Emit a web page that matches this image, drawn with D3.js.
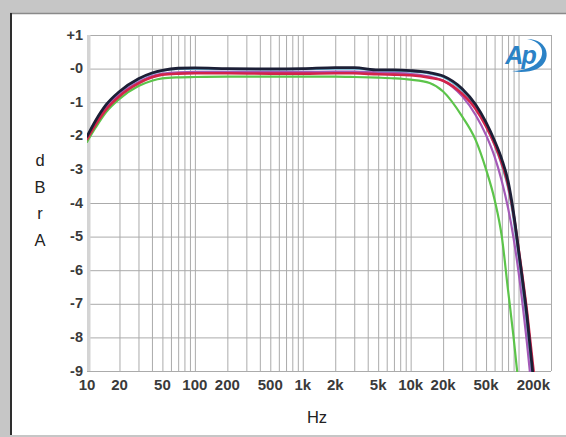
<!DOCTYPE html>
<html>
<head>
<meta charset="utf-8">
<script src="https://cdn.jsdelivr.net/npm/d3@7/dist/d3.min.js"></script>
<style>
  html, body { margin: 0; padding: 0; background: #c6c6c6; }
  svg { display: block; }
</style>
</head>
<body>
<script>
// Frequency response, dBrA vs Hz
const freqs = [10, 12, 15, 20, 30, 40, 50, 70, 100, 200, 500, 1000, 2000, 3000, 5000, 7000,
               10000, 15000, 20000, 30000, 40000, 50000, 60000, 70000, 80000, 90000, 100000, 120000, 140000];

const blackDb  = [-2.02, -1.55, -1.08, -0.68, -0.30, -0.13, -0.05, 0.01, 0.02, 0.00, -0.01, 0.00, 0.03, 0.03, -0.04, -0.04,
                  -0.06, -0.12, -0.22, -0.60, -1.07, -1.60, -2.15, -2.70, -3.35, -4.30, -5.40, -7.40, -9.50];
const cyanDb   = [-2.04, -1.57, -1.10, -0.70, -0.32, -0.15, -0.07, -0.01, -0.01, -0.02, -0.03, -0.02, 0.00, 0.00, -0.06, -0.07,
                  -0.09, -0.15, -0.25, -0.66, -1.14, -1.70, -2.28, -2.88, -3.55, -4.50, -5.60, -7.70, -9.80];
const purpleDb = [-2.07, -1.62, -1.16, -0.77, -0.40, -0.22, -0.15, -0.11, -0.10, -0.10, -0.10, -0.10, -0.09, -0.09, -0.12, -0.13,
                  -0.16, -0.24, -0.36, -0.82, -1.38, -1.98, -2.62, -3.35, -4.15, -5.05, -6.05, -8.20, -10.3];
const redDb    = [-2.10, -1.67, -1.22, -0.82, -0.44, -0.26, -0.18, -0.15, -0.14, -0.14, -0.15, -0.15, -0.14, -0.14, -0.17, -0.18,
                  -0.20, -0.27, -0.36, -0.75, -1.20, -1.72, -2.25, -2.82, -3.47, -4.35, -5.35, -7.25, -9.20];
const greenDb  = [-2.18, -1.76, -1.30, -0.90, -0.52, -0.36, -0.29, -0.26, -0.25, -0.24, -0.24, -0.24, -0.24, -0.25, -0.27, -0.29,
                  -0.33, -0.43, -0.68, -1.42, -2.12, -3.00, -3.90, -5.00, -6.60, -8.00, -9.40, -12.0, -14.0];

const xTickValues = [10, 20, 50, 100, 200, 500, 1000, 2000, 5000, 10000, 20000, 50000, 200000];
const xTickLabels = ["10", "20", "50", "100", "200", "500", "1k", "2k", "5k", "10k", "20k", "50k", "200k"];
const yTickValues = [1, 0, -1, -2, -3, -4, -5, -6, -7, -8, -9];
const yTickLabels = ["+1", "-0", "-1", "-2", "-3", "-4", "-5", "-6", "-7", "-8", "-9"];

const series = [
  { name: "green",  values: greenDb,  color: "#5cc44a", width: 2.2 },
  { name: "cyan",   values: cyanDb,   color: "#6fb9d6", width: 2.2 },
  { name: "purple", values: purpleDb, color: "#a45ab8", width: 2.2 },
  { name: "red",    values: redDb,    color: "#d3244a", width: 2.6 },
  { name: "black",  values: blackDb,  color: "#1c1f36", width: 2.8 }
];

const W = 566, H = 437;
const plotLeft = 87, plotRight = 551, plotTop = 35, plotBottom = 371;

const svg = d3.select("body").append("svg").attr("width", W).attr("height", H);

// Panel
svg.append("rect").attr("x", 0).attr("y", 0).attr("width", W).attr("height", H).attr("fill", "#c6c6c6");
svg.append("rect").attr("x", 10).attr("y", 13).attr("width", W - 10).attr("height", 422).attr("fill", "#ffffff");
svg.append("line").attr("x1", 10).attr("x2", W).attr("y1", 13.5).attr("y2", 13.5).attr("stroke", "#8a8a8a").attr("stroke-width", 1.5);
svg.append("line").attr("x1", 11).attr("x2", 11).attr("y1", 13).attr("y2", 435).attr("stroke", "#2e2e2e").attr("stroke-width", 2);

const x = d3.scaleLog().domain([10, 200000]).range([plotLeft, plotRight]);
const y = d3.scaleLinear().domain([-9, 1]).range([plotBottom, plotTop]);

// Grid
const gridX = [];
for (let d = 10; d <= 100000; d *= 10) {
  for (let m = 1; m <= 9; m++) { if (m * d <= 200000) gridX.push(m * d); }
}
gridX.push(200000);

const gridColor = "#ababab";
svg.append("g")
  .attr("transform", `translate(0,${plotBottom})`)
  .call(d3.axisBottom(x).tickValues(gridX).tickSize(-(plotBottom - plotTop)).tickFormat(""))
  .call(g => g.select(".domain").remove())
  .call(g => g.selectAll(".tick line").attr("stroke", gridColor).attr("stroke-width", 1));

svg.append("g")
  .attr("transform", `translate(${plotLeft},0)`)
  .call(d3.axisLeft(y).tickValues(yTickValues).tickSize(-(plotRight - plotLeft)).tickFormat(""))
  .call(g => g.select(".domain").remove())
  .call(g => g.selectAll(".tick line").attr("stroke", gridColor).attr("stroke-width", 1));

// Left edge band
svg.append("rect").attr("x", plotLeft).attr("y", plotTop).attr("width", 3.5).attr("height", plotBottom - plotTop)
  .attr("fill", "#d4d4d4");

// Curves
svg.append("clipPath").attr("id", "plot-clip")
  .append("rect").attr("x", plotLeft).attr("y", plotTop).attr("width", plotRight - plotLeft).attr("height", plotBottom - plotTop + 1);

const line = d3.line()
  .x((d, i) => x(freqs[i]))
  .y(d => y(d))
  .curve(d3.curveMonotoneX);

svg.append("g").attr("clip-path", "url(#plot-clip)")
  .selectAll("path")
  .data(series)
  .join("path")
  .attr("d", s => line(s.values))
  .attr("fill", "none")
  .attr("stroke", s => s.color)
  .attr("stroke-width", s => s.width)
  .attr("stroke-linejoin", "round")
  .attr("stroke-linecap", "round");

// Tick labels
const tickFont = "'Liberation Sans', Arial, sans-serif";
svg.append("g").selectAll("text")
  .data(xTickValues)
  .join("text")
  .attr("x", (d, i) => i === xTickValues.length - 1 ? x(d) - 1 : x(d))
  .attr("y", 390)
  .attr("text-anchor", (d, i) => i === xTickValues.length - 1 ? "end" : "middle")
  .attr("font-family", tickFont)
  .attr("font-weight", "bold")
  .attr("font-size", 15)
  .attr("fill", "#3a3a3a")
  .text((d, i) => xTickLabels[i]);

svg.append("g").selectAll("text")
  .data(yTickValues)
  .join("text")
  .attr("x", 83)
  .attr("y", d => y(d) + 4.5)
  .attr("text-anchor", "end")
  .attr("font-family", tickFont)
  .attr("font-weight", "bold")
  .attr("font-size", 14.5)
  .attr("fill", "#3a3a3a")
  .text((d, i) => yTickLabels[i]);

// Axis titles
const titleFont = "'Liberation Sans', Arial, sans-serif";
const yTitle = ["d", "B", "r", "A"];
svg.append("g").selectAll("text")
  .data(yTitle)
  .join("text")
  .attr("x", 40)
  .attr("y", (d, i) => 166 + i * 26.5)
  .attr("text-anchor", "middle")
  .attr("font-family", titleFont)
  .attr("font-size", 16.5)
  .attr("fill", "#222")
  .text(d => d);

svg.append("text")
  .attr("x", 317).attr("y", 423)
  .attr("text-anchor", "middle")
  .attr("font-family", titleFont)
  .attr("font-size", 16.5)
  .attr("fill", "#222")
  .text("Hz");

// Logo
const logo = svg.append("g").attr("transform", "translate(523,55)");
logo.append("path")
  .attr("d", "M 4 -16 C 26 -16 30 6 14 14 C 7 17 -3 18 -11 16 C 2 16 14 11 18 3 C 22 -6 16 -14 4 -16 Z")
  .attr("fill", "#2b82c6");
logo.append("text")
  .attr("x", -3).attr("y", 9)
  .attr("text-anchor", "middle")
  .attr("font-family", "'Liberation Sans', Arial, sans-serif")
  .attr("font-weight", "bold")
  .attr("font-style", "italic")
  .attr("font-size", 25)
  .attr("fill", "#2b82c6")
  .attr("letter-spacing", -2)
  .text("Ap");
</script>
</body>
</html>
